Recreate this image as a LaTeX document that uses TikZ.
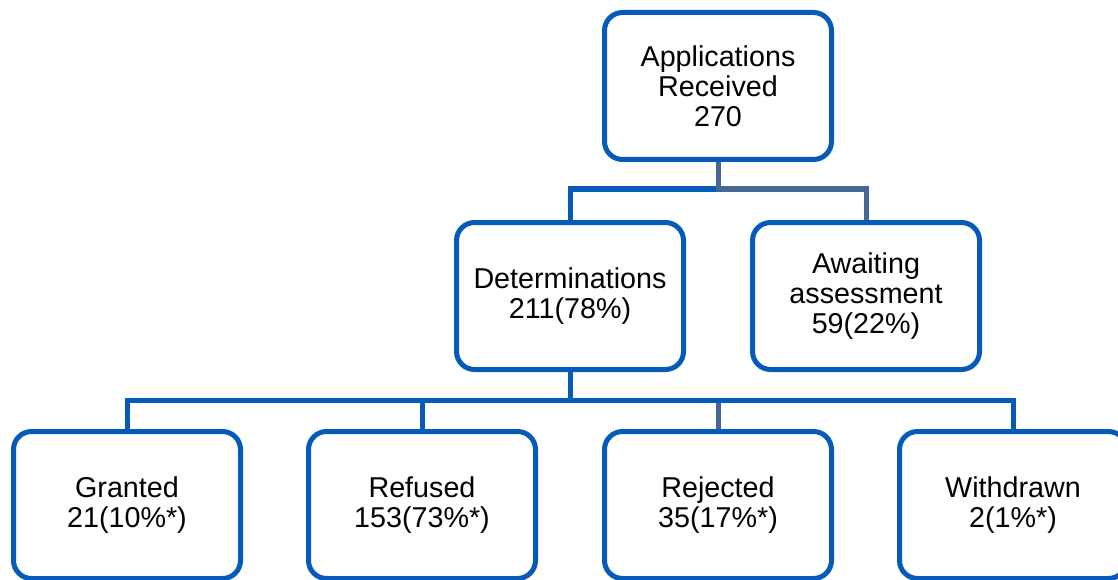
\documentclass[tikz,border=0pt]{standalone}
\usepackage{fontspec}
\setmainfont{Liberation Sans}
\usetikzlibrary{backgrounds}

\definecolor{boxblue}{RGB}{6,90,186}
\definecolor{linkgrey}{RGB}{70,104,150}

\tikzset{
  stagebox/.style={draw=boxblue, line width=5pt, rounded corners=18pt, fill=white,
    minimum width=227pt, minimum height=147pt, inner sep=0pt, align=center,
    font=\fontsize{28.7}{30}\selectfont},
  link/.style={draw=boxblue, line width=5pt},
  greylink/.style={draw=linkgrey, line width=5pt}
}

\begin{document}
\begin{tikzpicture}[x=1pt,y=-1pt]
\useasboundingbox (0,0) rectangle (1118,580);
\clip (0,0) rectangle (1118,580);
\def\topbar{189}
\def\lowbar{400}

% top and second row
\node[stagebox] (app) at (718,86) {Applications\\Received\\270};
\node[stagebox] (det) at (570,296) {Determinations\\211(78\%)};
\node[stagebox] (await) at (866,296) {Awaiting\\assessment\\59(22\%)};

% outcomes
\node[stagebox] (granted) at (127,505) {Granted\\21(10\%*)};
\node[stagebox] (refused) at (422,505) {Refused\\153(73\%*)};
\node[stagebox] (rejected) at (718,505) {Rejected\\35(17\%*)};
\node[stagebox] (withdrawn) at (1013,505) {Withdrawn\\2(1\%*)};

\begin{scope}[on background layer]
\draw[link] (app.south) -- (app.south |- 0,\topbar) -| (det.north);
\draw[greylink] (app.south) -- (app.south |- 0,\topbar) -| (await.north);
\draw[greylink] (det.south) -- (det.south |- 0,\lowbar) -| (rejected.north);
\foreach \leaf in {granted,refused,withdrawn}
  \draw[link] (det.south) -- (det.south |- 0,\lowbar) -| (\leaf.north);
\end{scope}
\end{tikzpicture}
\end{document}
